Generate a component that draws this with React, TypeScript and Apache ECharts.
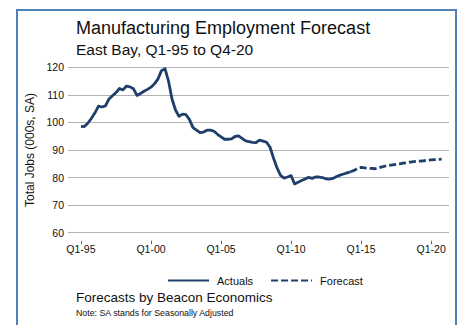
import React, { useEffect, useRef } from "react";
import * as echarts from "echarts";

const titleText = "Manufacturing Employment Forecast";
const subtitleText = "East Bay, Q1-95 to Q4-20";
const yAxisName = "Total Jobs (000s, SA)";
const footerText = "Forecasts by Beacon Economics";
const noteText = "Note: SA stands for Seasonally Adjusted";

const years = [1995, 1996, 1997, 1998, 1999, 2000, 2001, 2002, 2003, 2004, 2005, 2006, 2007, 2008, 2009, 2010, 2011, 2012, 2013, 2014, 2015, 2016, 2017, 2018, 2019, 2020];
const quarterNames = ["Q1", "Q2", "Q3", "Q4"];
const quarters: string[] = [];
years.forEach((y) => quarterNames.forEach((q) => quarters.push(`${q}-${String(y % 100).padStart(2, "0")}`)));

const tickLabels = ["Q1-95", "Q1-00", "Q1-05", "Q1-10", "Q1-15", "Q1-20"];

// Quarterly actuals, Q1-95 .. Q2-14 (thousands of jobs, SA)
const actuals = [
  98.6, 98.5, 99.8, 101.5, 103.5, 105.9, 105.6, 106.0, 108.5, 109.7,
  110.8, 112.3, 111.8, 113.2, 112.9, 112.2, 109.8, 110.5, 111.3, 112.0,
  112.8, 114.0, 115.8, 118.8, 119.5, 115.0, 108.5, 104.5, 102.2, 103.0,
  102.8, 101.0, 98.1, 97.2, 96.3, 96.5, 97.2, 97.2, 96.8, 95.7,
  94.8, 93.9, 93.9, 94.0, 94.9, 95.1, 94.2, 93.3, 93.0, 92.8,
  92.7, 93.6, 93.2, 92.8, 91.0, 87.0, 83.5, 80.8, 79.8, 80.2,
  80.7, 77.7, 78.3, 78.9, 79.5, 80.1, 79.7, 80.2, 80.2, 80.0,
  79.5, 79.4, 79.7, 80.4, 80.9, 81.3, 81.7, 82.1,
];

// Quarterly forecast, Q2-14 .. Q4-20
const forecast = [
  82.1, 82.6, 83.3, 83.7, 83.5, 83.4, 83.3, 83.2, 83.5, 83.9,
  84.2, 84.4, 84.6, 84.8, 85.0, 85.2, 85.4, 85.6, 85.8, 85.9,
  86.0, 86.1, 86.3, 86.4, 86.5, 86.6, 86.7,
];

const LINE_COLOR = "#1f3f6b";
const FONT = "'Liberation Sans', Arial, Helvetica, sans-serif";

export default function App() {
  const ref = useRef<HTMLDivElement>(null);
  useEffect(() => {
    if (!ref.current) return;
    const chart = echarts.init(ref.current, undefined, { renderer: "svg" });
    const forecastStart = actuals.length - 1;
    const tickValues = tickLabels.map((l) => quarters.indexOf(l));
    chart.setOption({
      animation: false,
      backgroundColor: "#ffffff",
      textStyle: { fontFamily: FONT },
      title: [
        {
          text: titleText,
          left: 76,
          top: 19,
          padding: 0,
          textStyle: { fontSize: 18, fontWeight: "normal", color: "#111", fontFamily: FONT },
        },
        {
          text: subtitleText,
          left: 76,
          top: 41,
          padding: 0,
          textStyle: { fontSize: 15.5, fontWeight: "normal", color: "#111", fontFamily: FONT },
        },
      ],
      grid: { left: 68, right: 10, top: 67.3, bottom: 325 - 232.7, containLabel: false },
      xAxis: {
        type: "value",
        min: -3.7,
        max: 105.1,
        offset: 8,
        axisLine: { show: false },
        splitLine: { show: false },
        axisTick: {
          show: true,
          length: 3.5,
          customValues: tickValues,
          lineStyle: { color: "#666", width: 1 },
        },
        axisLabel: {
          customValues: tickValues,
          margin: 3,
          fontSize: 10.5,
          color: "#111",
          fontFamily: FONT,
          formatter: (v: number) => quarters[Math.round(v)] ?? "",
        },
      },
      yAxis: {
        type: "value",
        min: 60,
        max: 120,
        interval: 10,
        name: yAxisName,
        nameLocation: "middle",
        nameGap: 29,
        nameRotate: 90,
        nameTextStyle: { fontSize: 12, color: "#111", fontFamily: FONT },
        axisLine: { show: false },
        axisTick: { show: false },
        axisLabel: { fontSize: 10.5, color: "#111", margin: 4, fontFamily: FONT },
        splitLine: { lineStyle: { color: "#b3b3b3", width: 1 } },
      },
      legend: {
        left: 162,
        top: 270,
        itemWidth: 41,
        itemHeight: 12,
        itemGap: 17,
        itemStyle: { opacity: 0, borderWidth: 0 },
        textStyle: { fontSize: 11, color: "#111", fontFamily: FONT, padding: [0, 0, 0, 3] },
        data: ["Actuals", "Forecast"],
      },
      series: [
        {
          name: "Actuals",
          type: "line",
          symbol: "none",
          color: LINE_COLOR,
          lineStyle: { color: LINE_COLOR, width: 2.8, join: "round" },
          data: actuals.map((v, i) => [i, v]),
        },
        {
          name: "Forecast",
          type: "line",
          symbol: "none",
          color: LINE_COLOR,
          lineStyle: { color: LINE_COLOR, width: 2.8, type: [7, 3] },
          data: forecast.map((v, i) => [i + forecastStart, v]),
        },
      ],
      graphic: [
        {
          type: "rect",
          shape: { x: 17, y: 10, width: 439, height: 340 },
          style: { fill: "none", stroke: "#4f81bd", lineWidth: 2 },
          silent: true,
        },
        {
          type: "text",
          left: 76,
          top: 290,
          style: { text: footerText, fontSize: 13.5, fill: "#111", fontFamily: FONT },
        },
        {
          type: "text",
          left: 76,
          top: 308,
          style: { text: noteText, fontSize: 8.8, fill: "#111", fontFamily: FONT },
        },
      ],
    });
    return () => chart.dispose();
  }, []);
  return (
    <div
      ref={ref}
      style={{ position: "fixed", left: 0, top: 0, width: 459, height: 325 }}
    />
  );
}
